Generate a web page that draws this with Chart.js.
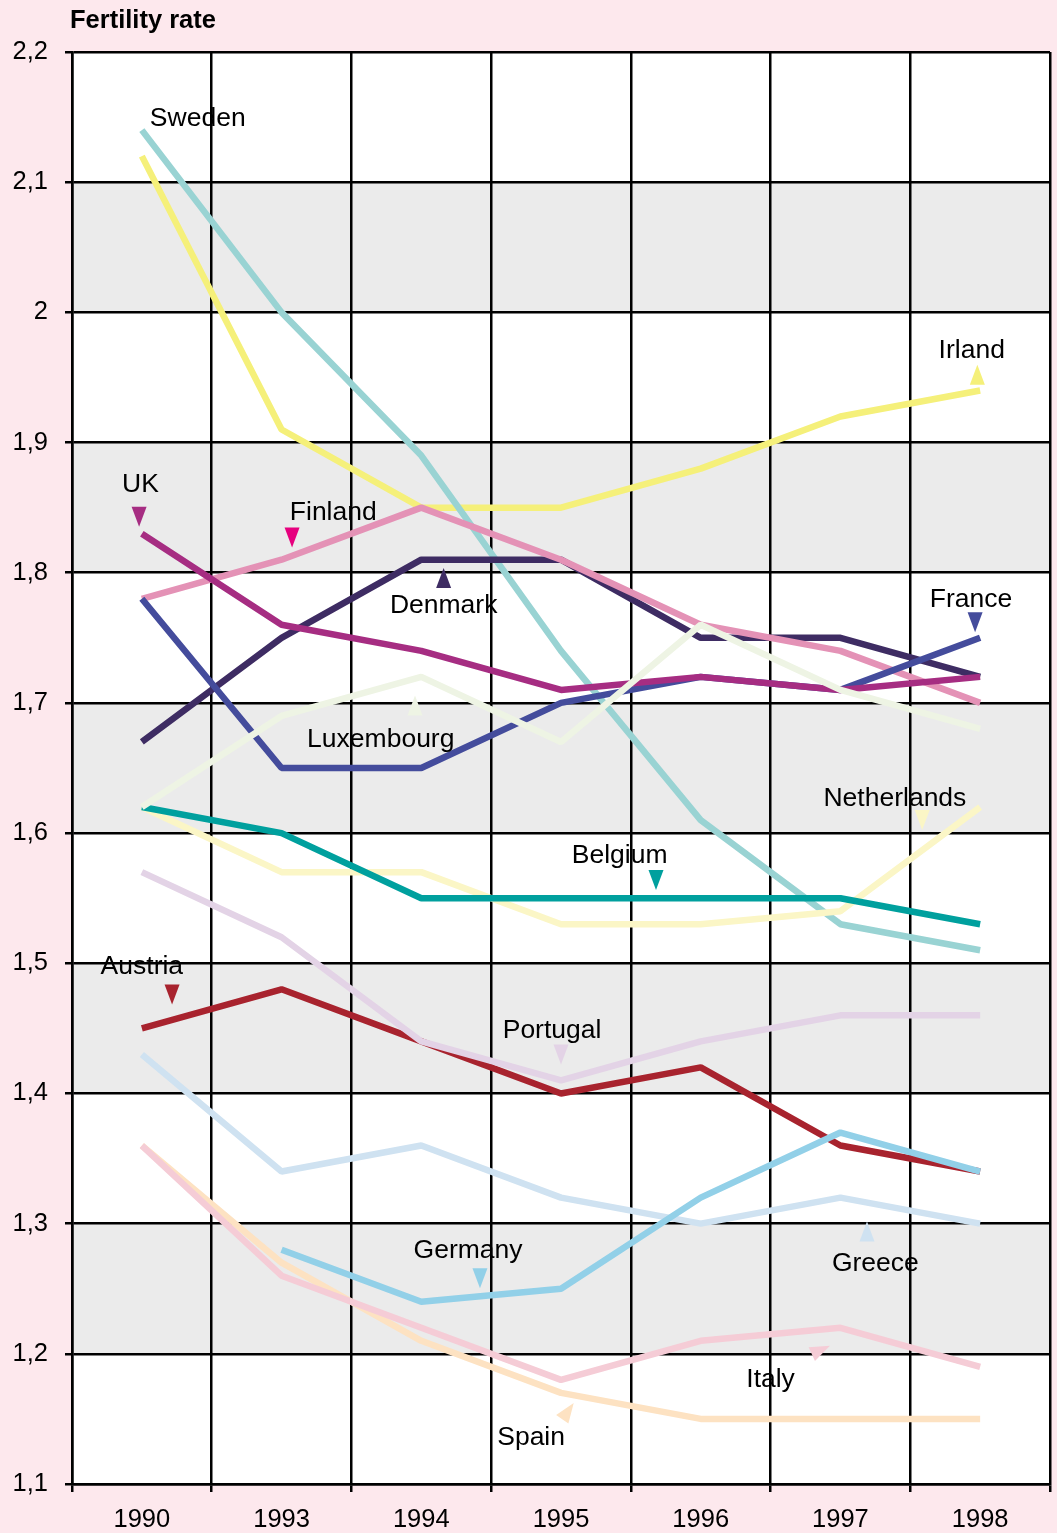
<!DOCTYPE html>
<html>
<head>
<meta charset="utf-8">
<script src="https://cdn.jsdelivr.net/npm/chart.js@4/dist/chart.umd.min.js"></script>
<style>
  html, body { margin: 0; padding: 0; background: #fde8ed; }
  #wrap { width: 1057px; height: 1533px; position: relative; }
</style>
</head>
<body>
<div id="wrap"><canvas id="chFertility"></canvas></div>
<script>
// ============ 数据 ============
const years = ['1990', '1993', '1994', '1995', '1996', '1997', '1998'];
const yTicks = { min: 1.1, max: 2.2, step: 0.1 };

const sweden      = [2.14, 2.00, 1.89, 1.74, 1.61, 1.53, 1.51];
const irland      = [2.12, 1.91, 1.85, 1.85, 1.88, 1.92, 1.94];
const uk          = [1.83, 1.76, 1.74, 1.71, 1.72, 1.71, 1.72];
const finland     = [1.78, 1.81, 1.85, 1.81, 1.76, 1.74, 1.70];
const denmark     = [1.67, 1.75, 1.81, 1.81, 1.75, 1.75, 1.72];
const france      = [1.78, 1.65, 1.65, 1.70, 1.72, 1.71, 1.75];
const luxembourg  = [1.62, 1.69, 1.72, 1.67, 1.76, 1.71, 1.68];
const belgium     = [1.62, 1.60, 1.55, 1.55, 1.55, 1.55, 1.53];
const netherlands = [1.62, 1.57, 1.57, 1.53, 1.53, 1.54, 1.62];
const portugal    = [1.57, 1.52, 1.44, 1.41, 1.44, 1.46, 1.46];
const austria     = [1.45, 1.48, 1.44, 1.40, 1.42, 1.36, 1.34];
const greece      = [1.43, 1.34, 1.36, 1.32, 1.30, 1.32, 1.30];
const germany     = [null, 1.28, 1.24, 1.25, 1.32, 1.37, 1.34];
const italy       = [1.36, 1.26, 1.22, 1.18, 1.21, 1.22, 1.19];
const spain       = [1.36, 1.27, 1.21, 1.17, 1.15, 1.15, 1.15];

// 国家标签（数据坐标：x 为类别序号，y 为生育率）
const labels = [
  { text: 'Sweden',      x: 0.40, y: 2.150 },
  { text: 'Irland',      x: 5.94, y: 1.972, tx: 5.98, ty: 1.952, dir: -90, color: '#f5f07a' },
  { text: 'UK',          x: -0.01, y: 1.869, tx: -0.02, ty: 1.843, dir: 90, color: '#a62d82' },
  { text: 'Finland',     x: 1.37, y: 1.848, tx: 1.075, ty: 1.827, dir: 90, color: '#e6007e' },
  { text: 'Denmark',     x: 2.16, y: 1.776, tx: 2.16, ty: 1.796, dir: -90, color: '#3e2c63' },
  { text: 'France',      x: 5.935, y: 1.781, tx: 5.964, ty: 1.762, dir: 90, color: '#444c9c' },
  { text: 'Luxembourg',  x: 1.71, y: 1.673, tx: 1.955, ty: 1.698, dir: -90, color: '#eef4e4' },
  { text: 'Netherlands', x: 5.39, y: 1.628, tx: 5.585, ty: 1.610, dir: 90, color: '#fbf6c6' },
  { text: 'Belgium',     x: 3.42, y: 1.584, tx: 3.68, ty: 1.564, dir: 90, color: '#00a09e' },
  { text: 'Austria',     x: 0.0, y: 1.499, tx: 0.216, ty: 1.476, dir: 90, color: '#a8232e' },
  { text: 'Portugal',    x: 2.936, y: 1.450, tx: 3.0, ty: 1.430, dir: 90, color: '#e3d3e6' },
  { text: 'Germany',     x: 2.335, y: 1.281, tx: 2.42, ty: 1.258, dir: 90, color: '#92d0e8' },
  { text: 'Greece',      x: 5.25, y: 1.271, tx: 5.19, ty: 1.294, dir: -90, color: '#cfe2f1' },
  { text: 'Italy',       x: 4.50, y: 1.182, tx: 4.86, ty: 1.203, dir: -25, color: '#f5ccd6' },
  { text: 'Spain',       x: 2.786, y: 1.137, tx: 3.05, ty: 1.156, dir: -55, color: '#fde2c2' },
];

const FONT = '"Liberation Sans", Arial, Helvetica, sans-serif';

function line(data, color) {
  return {
    data, borderColor: color, backgroundColor: color,
    borderWidth: 6.5, pointRadius: 0, tension: 0,
    borderJoinStyle: 'bevel', borderCapStyle: 'butt', spanGaps: false
  };
}

// 画布背景 + 灰白相间的横带
const bandsPlugin = {
  id: 'bands',
  beforeDraw(chart) {
    const { ctx, chartArea: a, scales: { y } } = chart;
    ctx.save();
    ctx.fillStyle = '#fde8ed';
    ctx.fillRect(0, 0, chart.width, chart.height);
    ctx.fillStyle = '#ffffff';
    ctx.fillRect(a.left, a.top, a.right - a.left, a.bottom - a.top);
    ctx.fillStyle = '#ebebeb';
    const t = y.ticks;
    for (let i = 0; i < t.length - 1; i++) {
      if (i % 2 === 1) {
        const y1 = y.getPixelForValue(t[i].value);
        const y2 = y.getPixelForValue(t[i + 1].value);
        ctx.fillRect(a.left, y2, a.right - a.left, y1 - y2);
      }
    }
    ctx.restore();
  }
};

// 标签 + 三角指示
const labelPlugin = {
  id: 'countryLabels',
  afterDatasetsDraw(chart) {
    const { ctx, scales: { x, y } } = chart;
    const step = x.getPixelForValue(1) - x.getPixelForValue(0);
    const px = v => x.getPixelForValue(0) + v * step;
    ctx.save();
    labels.forEach(l => {
      if (l.tx !== undefined) {
        ctx.save();
        ctx.translate(px(l.tx), y.getPixelForValue(l.ty));
        ctx.rotate(l.dir * Math.PI / 180);
        ctx.beginPath();
        ctx.moveTo(10, 0);
        ctx.lineTo(-10, -7.5);
        ctx.lineTo(-10, 7.5);
        ctx.closePath();
        ctx.fillStyle = l.color;
        ctx.fill();
        ctx.restore();
      }
      ctx.font = '26.5px ' + FONT;
      ctx.fillStyle = '#000';
      ctx.textAlign = 'center';
      ctx.textBaseline = 'middle';
      ctx.fillText(l.text, px(l.x), y.getPixelForValue(l.y) + 2);
    });
    // 标题
    ctx.font = 'bold 25.5px ' + FONT;
    ctx.textAlign = 'left';
    ctx.textBaseline = 'middle';
    ctx.fillText('Fertility rate', 70, 21);
    ctx.restore();
  }
};

const ctx = document.getElementById('chFertility');
new Chart(ctx, {
  type: 'line',
  data: {
    labels: years,
    datasets: [
      line(germany, '#92d0e8'),
      line(portugal, '#e3d3e6'),
      line(austria, '#a8232e'),
      line(greece, '#cfe2f1'),
      line(italy, '#f5ccd6'),
      line(spain, '#fde2c2'),
      line(luxembourg, '#eef4e4'),
      line(uk, '#a62d82'),
      line(france, '#444c9c'),
      line(finland, '#e492b6'),
      line(denmark, '#3e2c63'),
      line(belgium, '#00a09e'),
      line(netherlands, '#fbf6c6'),
      line(sweden, '#99d3d3'),
      line(irland, '#f5f07a'),
    ]
  },
  options: {
    responsive: true, maintainAspectRatio: false, animation: false,
    layout: { padding: { top: 52, right: 7, left: 0, bottom: 0 } },
    plugins: { legend: { display: false }, tooltip: { enabled: false }, title: { display: false } },
    scales: {
      x: {
        offset: true,
        grid: { offset: true, color: '#000', lineWidth: 2.5, tickLength: 8, drawTicks: true },
        border: { color: '#000', width: 2.5 },
        ticks: { color: '#000', font: { family: FONT, size: 25.5 }, padding: 13, maxRotation: 0 },
        afterFit: s => { s.height = 49; }
      },
      y: {
        min: yTicks.min, max: yTicks.max,
        grid: { color: '#000', lineWidth: 2.5, tickLength: 7 },
        border: { color: '#000', width: 2.5 },
        ticks: {
          stepSize: yTicks.step, color: '#000', padding: 17,
          font: { family: FONT, size: 25.5 },
          callback: v => String(+v.toFixed(1)).replace('.', ',')
        },
        afterFit: s => { s.width = 72; }
      }
    }
  },
  plugins: [bandsPlugin, labelPlugin]
});
</script>
</body>
</html>
